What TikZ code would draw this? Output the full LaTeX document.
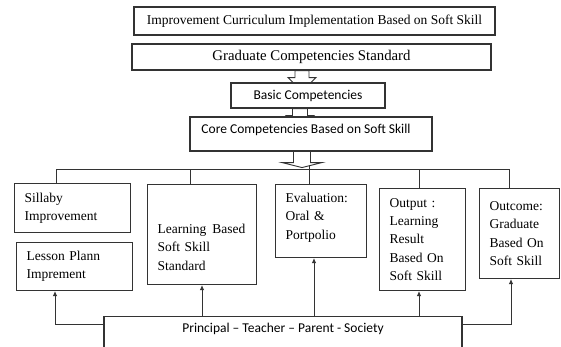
\documentclass[tikz,border=0pt]{standalone}
\usepackage{fontspec}
\setmainfont{Liberation Serif}
\newfontfamily\calibri{Carlito}
\usetikzlibrary{arrows.meta,calc}

\begin{document}
\begin{tikzpicture}[x=1pt,y=-1pt,
    headbox/.style={draw=black!80,line width=1.1pt,inner sep=0pt,align=center},
    leafbox/.style={draw=black!80,line width=1.1pt,anchor=north west,align=left,
      inner xsep=10pt,inner ysep=0pt,font=\fontsize{13.5}{18.3}\selectfont}]
  \tikzset{link/.style={draw=black!80,line width=0.9pt},
    feed/.style={link,-{Latex[length=5pt,width=4.5pt]}}}
  \useasboundingbox[fill=white] (0,0) rectangle (561,346);
  % upper chain
  \node[headbox,minimum width=361pt,minimum height=28pt,font=\fontsize{13.5}{16}\selectfont] (title) at (314.5,21) {Improvement Curriculum Implementation Based on Soft Skill};
  \node[headbox,minimum width=359pt,minimum height=26pt,font=\fontsize{14.8}{17}\selectfont] (grad) at (311.5,57) {Graduate Competencies Standard};
  \node[headbox,minimum width=154pt,minimum height=25pt,font=\calibri\fontsize{13.5}{16}\selectfont] (basic) at (308,95.5) {Basic Competencies};
  \node[headbox,minimum width=242pt,minimum height=34pt,font=\calibri\fontsize{13.5}{16}\selectfont] (core) at (311,134) {Core Competencies Based on Soft Skill\rule[-11pt]{0pt}{11pt}\hspace{10pt}};
  \draw[link] ($(grad.south)+(-17.5,13)$) -- ++(-6,-6) -- ++(7,0) -- ++(0,-7) -- ++(14,0) -- ++(0,7) -- ++(7,0) -- ++(-6,6);
  \draw[link] ($(basic.south)+(-20,9)$) -- ++(-2,-2) -- ++(6.5,0) -- ++(0,-7) -- ++(15,0) -- ++(0,7) -- ++(6.5,0) -- ++(-2,2);
  \draw[link] ($(core.south)+(-17.5,0)$) -- ++(0,11) -- ++(-11.5,0) -- ++(20,5) -- ++(20,-5) -- ++(-11.5,0) -- ++(0,-11);
  % lower boxes
  \node[leafbox,minimum width=116pt,minimum height=49pt,text width=96pt] (sill) at (14,183) {Sillaby\\Improvement};
  \node[leafbox,minimum width=116pt,minimum height=48pt,text width=96pt] (lesson) at (16,242) {Lesson Plann\\Imprement};
  \node[leafbox,minimum width=109pt,minimum height=100pt,text width=89pt] (learn) at (147,184) {\rule{0pt}{35pt}\makebox[89pt][l]{Learning\hspace{6pt}Based}\\Soft Skill\\Standard};
  \node[leafbox,minimum width=91pt,minimum height=73pt,text width=71pt] (eval) at (275,184) {Evaluation:\\Oral \&\\Portpolio\rule[-10pt]{0pt}{10pt}};
  \node[leafbox,minimum width=86pt,minimum height=102pt,text width=66pt] (out) at (379,188) {Output :\\Learning\\Result\\Based On\\Soft Skill};
  \node[leafbox,minimum width=80pt,minimum height=90pt,text width=60pt] (outc) at (479,188) {Outcome:\\Graduate\\Based On\\Soft Skill};
  \node[headbox,anchor=north,minimum width=358pt,inner ysep=7pt,font=\calibri\fontsize{13.5}{16}\selectfont] (pri) at (283,316) {Principal – Teacher – Parent - Society\rule[-22pt]{0pt}{22pt}};
  % bus and drops
  \coordinate (busl) at (56,169);
  \coordinate (busr) at (509,169);
  \draw[link] (busl) -- (busr);
  \draw[link] (309,165.3) -- (309,169);
  \foreach \x/\n in {56/sill,190/learn,309/eval,419/out,509/outc}
    \draw[link] (\x,169) -- (\x,0 |- \n.north);
  % feedback from principal
  \foreach \x/\n in {202/learn,314/eval,419/out}
    \draw[feed] (\x,0 |- pri.north) -- (\x,0 |- \n.south);
  \draw[feed] (pri.west |- 0,324) -| (55,0 |- lesson.south);
  \draw[feed] (pri.east |- 0,324) -| (511,0 |- outc.south);
\end{tikzpicture}
\end{document}
